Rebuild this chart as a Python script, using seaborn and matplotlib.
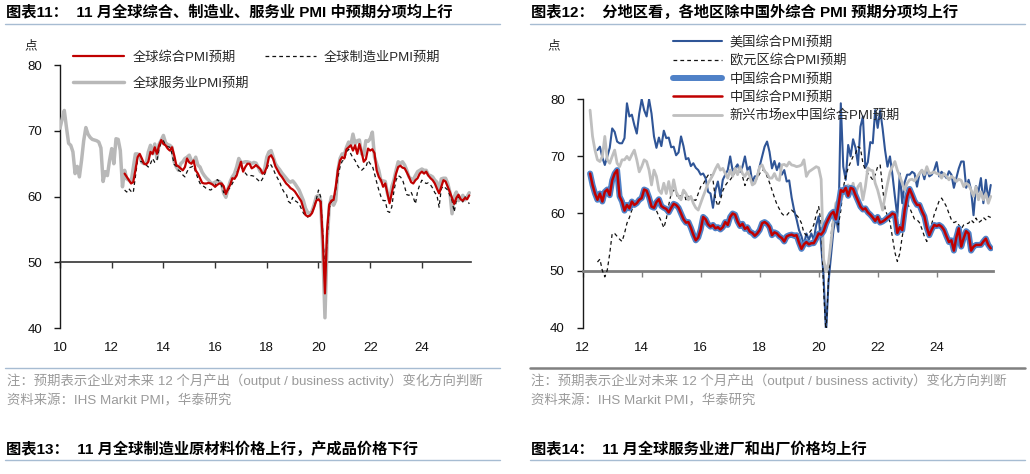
import numpy as np
import pandas as pd
import seaborn as sns
import matplotlib
matplotlib.use("Agg")
import matplotlib.pyplot as plt
from matplotlib.lines import Line2D

# ---- chart 11: global PMI future output (monthly) ----
# services from 2010-01, composite / manufacturing from 2012-07, all to 2025-11
svc_pmi = [
    70.4, 71.8, 73.1, 70.5, 68.1, 67.8, 66.8, 63.5, 64.6, 63.0,
    65.5, 68.5, 70.5, 69.5, 69.0, 68.7, 68.6, 68.5, 68.3, 67.4,
    62.3, 63.8, 63.2, 65.5, 67.3, 65.0, 68.8, 68.7, 67.0, 61.5,
    64.0, 62.7, 62.5, 62.2, 64.3, 66.5, 66.5, 66.0, 65.2, 65.0,
    65.1, 66.8, 67.8, 66.5, 68.0, 65.8, 68.0, 68.6, 69.3, 68.2,
    67.9, 67.8, 67.5, 65.3, 64.5, 64.0, 65.0, 65.3, 65.8, 66.0,
    66.3, 65.5, 65.3, 66.0, 64.8, 64.5, 63.7, 63.2, 62.8, 62.5,
    62.1, 62.0, 62.2, 62.4, 62.3, 62.0, 60.5, 59.9, 61.2, 62.3,
    63.0, 63.5, 64.5, 65.8, 65.2, 65.2, 65.3, 65.3, 65.2, 65.0,
    65.2, 65.1, 64.5, 63.8, 63.6, 64.2, 66.0, 66.8, 67.0, 66.0,
    65.0, 64.5, 64.1, 63.6, 63.2, 62.8, 62.4, 62.2, 62.4, 62.0,
    61.5, 61.0, 60.2, 59.4, 58.2, 57.6, 57.4, 57.8, 58.8, 60.0,
    60.2, 59.4, 51.9, 41.6, 53.0, 58.5, 60.0, 58.7, 59.4, 64.0,
    65.8, 66.5, 66.4, 67.5, 68.3, 67.8, 69.5, 68.0, 68.5, 68.6,
    66.5, 66.3, 68.5, 68.4, 68.8, 69.8, 66.0, 65.0, 64.0, 62.4,
    62.4, 62.3, 60.5, 59.4, 61.5, 62.5, 64.0, 65.3, 65.0, 65.3,
    64.8, 64.0, 63.0, 62.7, 62.6, 63.2, 63.8, 64.0, 64.2, 64.0,
    64.0, 63.3, 63.2, 63.0, 62.5, 62.2, 60.7, 62.7, 62.8, 62.8,
    62.0, 60.7, 57.4, 60.0, 60.7, 59.4, 59.7, 60.2, 59.5, 60.0,
    60.6,
]
comp_pmi = [
    63.5, 63.0, 62.5, 62.0, 62.2, 64.0, 66.0, 66.5, 65.8, 65.0,
    64.9, 65.3, 66.8, 66.5, 67.5, 66.5, 67.8, 68.6, 68.0, 67.8,
    67.3, 67.0, 67.5, 66.3, 64.8, 64.6, 64.3, 64.0, 64.5, 65.8,
    65.2, 65.0, 65.5, 64.0, 63.5, 62.8, 62.1, 62.0, 62.0, 62.1,
    62.0, 61.8, 61.5, 61.8, 62.0, 62.0, 61.6, 60.4, 61.2, 61.8,
    62.8, 62.7, 63.2, 64.3, 65.3, 63.8, 64.5, 65.0, 65.0, 64.3,
    64.5, 64.8, 64.5, 64.2, 63.5, 63.7, 64.5, 66.0, 66.3, 65.7,
    64.6, 64.0, 63.4, 63.0, 62.5, 62.0, 61.7, 61.3, 61.1, 60.8,
    60.3, 59.8, 59.3, 58.2, 57.2, 57.0, 57.1, 57.5, 58.4, 59.4,
    59.6, 59.2, 53.4, 45.3, 55.0, 58.8, 59.4, 59.5, 61.5, 64.0,
    65.5, 66.0, 65.8, 67.2, 67.5, 67.8, 67.0, 67.8, 66.5, 68.0,
    66.8, 65.3, 65.7, 67.3, 67.0, 67.2, 66.6, 64.0, 63.0, 62.5,
    61.5, 62.0, 60.5, 59.0, 60.5, 62.0, 63.5, 64.5, 64.7, 64.4,
    64.3, 63.7, 63.0, 62.2, 62.0, 62.5, 62.8, 63.5, 63.8, 63.5,
    63.8, 63.2, 62.8, 62.5, 62.0, 61.2, 60.5, 61.5, 62.5, 62.3,
    61.5, 60.7, 59.8, 58.9, 59.8, 60.3, 59.6, 59.4, 59.8, 59.6,
    60.2,
]
mfg_pmi = [
    61.0, 60.7, 61.2, 60.8, 60.6, 63.0, 65.5, 65.4, 65.3, 65.0,
    64.8, 64.5, 65.0, 65.8, 65.2, 65.5, 67.3, 68.2, 68.5, 67.8,
    67.6, 67.5, 66.5, 64.9, 64.6, 64.0, 63.8, 63.3, 63.0, 63.8,
    64.4, 64.5, 64.7, 63.7, 62.8, 62.0, 61.7, 61.5, 61.2, 61.1,
    61.0, 61.3, 61.5, 62.6, 62.3, 61.7, 60.6, 60.7, 61.0, 61.4,
    62.0, 62.6, 63.6, 64.2, 64.5, 64.1, 63.6, 63.2, 63.2, 63.2,
    63.1, 62.8, 62.5, 62.2, 62.7, 63.4, 64.2, 65.0, 64.8, 64.2,
    63.4, 62.8, 62.2, 61.3, 60.7, 60.5, 59.3, 59.0, 59.9, 59.4,
    59.2, 58.9, 58.2, 57.5, 57.1, 56.9, 57.2, 57.6, 58.4, 59.6,
    61.0, 60.0, 54.4, 48.3, 53.5, 58.3, 59.2, 59.6, 61.0, 63.0,
    64.5, 65.4, 65.6, 66.8, 67.2, 66.5, 65.9, 65.5, 64.8, 64.3,
    64.0, 64.3, 64.5, 65.5, 65.0, 64.7, 63.5, 62.2, 61.0, 60.0,
    59.4, 59.4, 57.8, 57.6, 58.4, 60.8, 62.5, 63.2, 63.0, 62.6,
    61.5, 60.3, 60.2, 60.7, 59.9, 58.9, 60.8, 61.8, 62.5, 62.2,
    62.0, 62.1, 61.8, 61.3, 60.6, 60.2, 58.4, 61.2, 61.6, 61.3,
    61.0, 60.2, 59.4, 57.7, 59.4, 60.0, 59.5, 59.2, 60.0, 59.5,
    58.9,
]

# ---- chart 12: composite PMI future output by region (monthly) ----
# US / euro area from 2012-07, China / EM ex China from 2012-04, all to 2025-11
us_pmi = [
    71.1, 71.7, 69.8, 68.5, 70.0, 71.5, 74.9, 74.3, 72.6, 72.3,
    72.3, 73.2, 79.3, 77.0, 77.3, 75.5, 74.0, 77.5, 80.0, 78.1,
    77.0, 80.0, 77.5, 73.5, 71.5, 73.3, 71.8, 74.5, 73.2, 73.3,
    71.6, 71.7, 70.2, 70.7, 73.5, 71.8, 69.5, 69.7, 68.3, 68.8,
    68.0, 67.6, 66.8, 67.0, 66.2, 63.8, 63.5, 61.0, 64.1, 65.6,
    63.0, 65.9, 66.8, 67.6, 70.0, 67.5, 67.9, 68.6, 67.3, 68.2,
    70.0, 67.6, 68.2, 65.5, 66.5, 66.5, 68.3, 70.0, 71.7, 72.6,
    70.8, 67.9, 69.2, 67.6, 68.8, 66.8, 67.6, 65.6, 65.8, 62.8,
    60.6, 59.0, 57.1, 56.0, 54.5, 56.5, 55.4, 56.5, 55.4, 58.0,
    59.5, 54.5, 49.0, 39.0, 48.0, 52.5, 57.1, 59.5, 56.8, 79.3,
    68.2, 65.9, 72.0, 70.0, 73.0, 71.5, 68.5, 75.2, 77.0, 68.0,
    69.0, 72.5, 72.3, 78.1, 75.0, 78.1, 74.9, 71.1, 68.2, 70.0,
    66.8, 63.0, 59.5, 67.0, 61.8, 65.5, 66.8, 66.8, 67.3, 67.0,
    64.7, 67.0, 67.6, 66.0, 68.0, 66.5, 66.8, 67.6, 69.0, 66.5,
    67.3, 66.8, 66.2, 67.4, 66.8, 64.5, 66.2, 67.9, 69.1, 69.1,
    64.5, 65.9, 64.1, 59.7, 64.8, 63.8, 66.2, 61.8, 65.9, 62.4,
    65.0,
]
ez_pmi = [
    51.5, 52.0, 50.0, 48.9, 50.1, 53.0, 56.5, 56.5, 56.0, 55.5,
    55.1, 56.5, 58.3, 59.3, 60.6, 61.3, 62.0, 62.4, 63.0, 63.2,
    63.8, 63.0, 62.4, 61.6, 60.5, 59.5, 58.6, 57.5, 59.0, 61.5,
    63.5, 64.1, 63.5, 62.5, 63.5, 63.8, 62.4, 63.0, 62.8, 62.4,
    62.3, 63.5, 64.7, 65.1, 66.0, 66.7, 67.0, 65.9, 62.5, 61.3,
    62.3, 64.0, 64.9, 65.5, 65.9, 66.5, 67.2, 67.6, 68.2, 66.5,
    64.9, 66.0, 66.5, 65.8, 65.5, 66.2, 67.0, 67.6, 67.6, 66.5,
    65.4, 64.1, 62.8, 61.6, 60.8, 60.0, 59.6, 59.7, 60.2, 60.6,
    60.2, 59.7, 59.2, 58.3, 56.6, 56.2, 56.5, 57.1, 58.0, 59.8,
    61.2, 58.3, 46.6, 39.0, 48.5, 56.0, 60.0, 60.2, 58.0, 60.5,
    64.5, 66.5, 68.0, 69.0, 70.0, 70.5, 71.7, 71.4, 68.8, 67.6,
    67.0, 66.5, 65.9, 66.8, 68.2, 68.5, 64.5, 60.8, 59.6, 58.5,
    55.8, 53.2, 51.6, 53.0, 56.0, 58.3, 61.8, 61.0, 60.0, 59.0,
    58.9, 58.4, 57.3, 56.0, 55.1, 56.5, 58.2, 59.8, 61.0, 62.2,
    62.7, 62.0, 61.2, 60.0, 58.9, 58.4, 58.6, 58.0, 57.3, 58.0,
    58.2, 58.3, 58.9, 58.4, 59.2, 58.4, 58.7, 59.3, 58.9, 59.5,
    59.3,
]
cn_pmi = [
    67.0, 65.0, 63.5, 62.4, 63.5, 62.1, 63.8, 64.2, 63.2, 65.8,
    67.0, 67.6, 63.0, 62.1, 60.5, 61.5, 60.9, 62.1, 61.5, 61.8,
    62.4, 62.7, 64.2, 64.0, 62.8, 61.2, 61.0, 62.0, 62.5, 61.3,
    61.0, 60.8, 60.2, 61.0, 61.7, 61.5, 61.0, 60.0, 59.0, 58.4,
    58.5, 57.5, 56.3, 55.3, 55.8, 57.2, 59.4, 59.0, 58.1, 57.7,
    58.0, 57.4, 57.6, 57.2, 57.6, 58.5, 58.0, 59.4, 60.0, 59.8,
    58.6, 57.8, 58.2, 57.3, 57.6, 56.8, 56.6, 56.1, 56.5, 57.1,
    58.3, 58.5, 58.2, 57.6, 56.2, 56.7, 56.5, 56.0, 55.7, 55.1,
    56.0, 56.2, 56.3, 56.1, 56.2, 54.9, 53.8, 54.6, 55.0, 54.6,
    54.8, 54.8, 55.6, 56.5, 56.3, 56.9, 58.2, 59.1, 59.9, 60.3,
    59.0, 61.3, 64.1, 63.8, 64.5, 63.1, 64.5, 64.3, 63.2, 62.2,
    61.2, 60.7, 60.9, 60.2, 59.8, 59.3, 58.7, 59.4, 58.4, 58.6,
    58.9, 59.3, 59.6, 60.0, 59.8, 56.6, 57.6, 57.1, 60.6, 63.0,
    64.3, 63.3, 62.2, 61.5, 61.5, 60.4, 59.5, 57.5, 56.2, 57.2,
    58.0, 57.8, 58.0, 57.7, 57.1, 56.0, 55.0, 55.3, 53.5, 55.8,
    57.4, 54.2, 55.7, 56.9, 56.5, 53.5, 54.2, 54.5, 54.5, 54.5,
    55.1, 55.6, 54.5, 53.9,
]
em_pmi = [
    78.1, 73.5, 71.1, 69.4, 69.1, 70.0, 73.5, 69.4, 68.8, 70.0,
    71.1, 68.8, 68.2, 69.4, 69.4, 70.0, 69.4, 70.3, 71.1, 69.4,
    67.3, 68.2, 69.4, 69.1, 67.6, 65.0, 67.6, 66.5, 64.1, 63.5,
    65.3, 63.5, 65.6, 63.2, 65.9, 63.8, 63.0, 62.4, 64.1, 63.5,
    62.4, 63.0, 61.8, 61.0, 60.6, 61.8, 63.0, 64.1, 65.3, 66.0,
    66.8, 67.8, 68.6, 67.6, 67.9, 67.0, 66.2, 67.6, 66.5, 67.9,
    66.8, 68.2, 67.0, 66.5, 67.3, 66.5, 65.0, 65.3, 66.5, 68.2,
    68.5, 67.4, 67.0, 66.2, 66.2, 67.0, 66.0, 65.8, 68.5, 68.6,
    68.3, 69.0, 68.5, 68.4, 68.2, 68.3, 68.5, 69.4, 66.5, 67.3,
    67.6, 67.9, 68.2, 68.0, 66.0, 52.0, 49.8, 51.3, 55.0, 59.0,
    61.8, 62.4, 62.1, 63.5, 64.5, 65.0, 63.5, 65.3, 63.3, 64.7,
    65.3, 62.4, 64.7, 68.0, 67.6, 67.5, 65.3, 64.1, 62.4, 60.6,
    63.0, 65.2, 67.2, 68.2, 69.1, 67.6, 66.5, 65.3, 64.1, 65.3,
    65.9, 66.0, 65.7, 66.4, 67.0, 67.6, 66.8, 68.2, 67.0, 67.1,
    67.3, 67.0, 66.9, 66.2, 67.0, 66.5, 65.9, 66.5, 66.2, 65.6,
    66.0, 65.8, 64.7, 65.3, 65.0, 64.1, 63.0, 64.7, 62.4, 63.8,
    62.4, 63.5, 61.8, 63.0,
]

left_years = [2010, 2012, 2014, 2016, 2018, 2020, 2022, 2024]
right_years = [2012, 2014, 2016, 2018, 2020, 2022, 2024]

W, H = 1030, 474


def fx(px):
    return px / W


def fy(py):
    return 1 - py / H


def month_axis(start, n):
    p = pd.period_range(start, periods=n, freq="M")
    return np.asarray(p.year + (p.month - 1) / 12, dtype=float)


def style_axis(ax, xmax, years, base_color, base_width):
    ax.set_xlim(years[0], xmax)
    ax.set_ylim(40, 80)
    ax.set_yticks([40, 50, 60, 70, 80])
    ax.set_xlabel("")
    ax.set_ylabel("")
    for side in ("top", "right"):
        ax.spines[side].set_visible(False)
    ax.spines["left"].set_color("#1a1a1a")
    ax.spines["left"].set_linewidth(1.0)
    # the 50 line carries the x ticks
    ax.spines["bottom"].set_position(("data", 50))
    ax.spines["bottom"].set_color(base_color)
    ax.spines["bottom"].set_linewidth(base_width)
    ax.set_xticks(years)
    ax.tick_params(axis="x", bottom=True, direction="out", length=4, width=1,
                   color=base_color, labelbottom=False)
    ax.tick_params(axis="y", left=True, direction="out", length=4, width=1,
                   color="#1a1a1a", labelsize=9.5, pad=9, labelcolor="#111")
    sec = ax.secondary_xaxis("bottom")
    sec.set_xticks(years, labels=[f"{y % 100:02d}" for y in years])
    sec.spines["bottom"].set_visible(False)
    sec.tick_params(length=0, labelsize=9.5, pad=10, labelcolor="#111")


sns.set_theme(style="white")
plt.rcParams["font.family"] = ["Liberation Sans", "Noto Sans CJK SC"]
plt.rcParams["axes.unicode_minus"] = False

fig = plt.figure(figsize=(10.3, 4.74), dpi=100)
ax1 = fig.add_axes([fx(60), fy(328.3), (471 - 60) / W, (328.3 - 65) / H])
ax2 = fig.add_axes([fx(582.7), fy(327.7), (993.3 - 582.7) / W, (327.7 - 99.3) / H])

# ---- left chart ----
sns.lineplot(x=month_axis("2010-01", len(svc_pmi)), y=svc_pmi, ax=ax1,
             color="#b8b8b8", linewidth=2.5, label="全球服务业PMI预期", zorder=3)
sns.lineplot(x=month_axis("2012-07", len(mfg_pmi)), y=mfg_pmi, ax=ax1,
             color="#111111", linewidth=0.9, linestyle=(0, (3, 2.5)),
             label="全球制造业PMI预期", zorder=3)
sns.lineplot(x=month_axis("2012-07", len(comp_pmi)), y=comp_pmi, ax=ax1,
             color="#c00000", linewidth=1.6, label="全球综合PMI预期", zorder=4)
style_axis(ax1, 2025.9, left_years, "#333333", 1.2)

h, l = ax1.get_legend_handles_labels()
order = [2, 0, 1]
ax1.legend([h[i] for i in order], [l[i] for i in order], ncol=2,
           loc="upper left", bbox_to_anchor=(fx(73), fy(51)),
           bbox_transform=fig.transFigure, frameon=False, fontsize=9.5,
           handlelength=3.9, handletextpad=0.6, columnspacing=1.2,
           labelspacing=1.05, borderpad=0, borderaxespad=0)

# ---- right chart ----
sns.lineplot(x=month_axis("2012-07", len(us_pmi)), y=us_pmi, ax=ax2,
             color="#2f5597", linewidth=1.5, label="美国综合PMI预期", zorder=3)
sns.lineplot(x=month_axis("2012-07", len(ez_pmi)), y=ez_pmi, ax=ax2,
             color="#111111", linewidth=0.9, linestyle=(0, (3, 2.5)),
             label="欧元区综合PMI预期", zorder=3)
sns.lineplot(x=month_axis("2012-04", len(cn_pmi)), y=cn_pmi, ax=ax2,
             color="#4f81c7", linewidth=4.3, label="中国综合PMI预期", zorder=5)
sns.lineplot(x=month_axis("2012-04", len(cn_pmi)), y=cn_pmi, ax=ax2,
             color="#c00000", linewidth=1.8, label="中国综合PMI预期", zorder=6)
sns.lineplot(x=month_axis("2012-04", len(em_pmi)), y=em_pmi, ax=ax2,
             color="#bfbfbf", linewidth=2.0, label="新兴市场ex中国综合PMI预期", zorder=4)
style_axis(ax2, 2025.92, right_years, "#7f7f7f", 2.0)

ax2.legend(loc="upper left", bbox_to_anchor=(fx(673), fy(36)),
           bbox_transform=fig.transFigure, frameon=False, fontsize=9.5,
           handlelength=3.7, handletextpad=0.6, labelspacing=0.42,
           borderpad=0, borderaxespad=0)

# ---- titles, units and notes ----
title_kw = dict(fontsize=11, fontweight="bold", va="center", ha="left", color="#000")
fig.text(fx(6), fy(12), "图表11：  11 月全球综合、制造业、服务业 PMI 中预期分项均上行", **title_kw)
fig.text(fx(531), fy(12), "图表12：  分地区看，各地区除中国外综合 PMI 预期分项均上行", **title_kw)
fig.text(fx(6), fy(449), "图表13：  11 月全球制造业原材料价格上行，产成品价格下行", **title_kw)
fig.text(fx(531), fy(449), "图表14：  11 月全球服务业进厂和出厂价格均上行", **title_kw)

rule = "#a7bcd2"
for x0, x1, y in [(5, 500, 23.5), (530, 1025, 23.5), (5, 500, 460), (530, 1025, 460),
                  (5, 500, 367.5)]:
    fig.add_artist(Line2D([fx(x0), fx(x1)], [fy(y), fy(y)], transform=fig.transFigure,
                          color=rule, linewidth=1.0))
fig.add_artist(Line2D([fx(530), fx(1025)], [fy(367.5), fy(367.5)], transform=fig.transFigure,
                      color="#808080", linewidth=1.8))

fig.text(fx(31), fy(46), "点", fontsize=9, ha="center", va="center", color="#222")
fig.text(fx(554), fy(46), "点", fontsize=9, ha="center", va="center", color="#222")

note_kw = dict(fontsize=9.6, va="center", ha="left", color="#9a9a9a")
note1 = "注：预期表示企业对未来 12 个月产出（output / business activity）变化方向判断"
note2 = "资料来源：IHS Markit PMI，华泰研究"
fig.text(fx(7), fy(381), note1, **note_kw)
fig.text(fx(7), fy(401), note2, **note_kw)
fig.text(fx(531), fy(381), note1, **note_kw)
fig.text(fx(531), fy(401), note2, **note_kw)

fig.savefig("out.png", dpi=100)
